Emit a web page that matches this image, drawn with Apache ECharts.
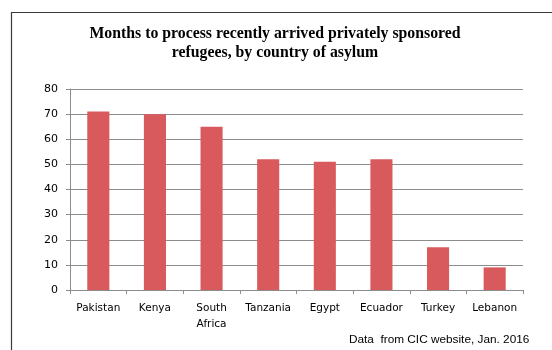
<!DOCTYPE html>
<html>
<head>
<meta charset="utf-8">
<script src="https://cdn.jsdelivr.net/npm/echarts@6/dist/echarts.min.js"></script>
<style>html,body{margin:0;padding:0;background:#fff}#c{width:552px;height:350px}</style>
</head>
<body>
<div id="c"></div>
<script>
const categories = ['Pakistan', 'Kenya', 'South\nAfrica', 'Tanzania', 'Egypt', 'Ecuador', 'Turkey', 'Lebanon'];
const months = [71, 70, 65, 52, 51, 52, 17, 9];
const titleText = 'Months to process recently arrived privately sponsored\nrefugees, by country of asylum';
const sourceText = 'Data  from CIC website, Jan. 2016';

const chart = echarts.init(document.getElementById('c'), null, {renderer: 'canvas'});
chart.setOption({
  animation: false,
  backgroundColor: '#fff',
  graphic: [
    {type: 'rect', shape: {x: 11.5, y: 12.5, width: 600, height: 400}, style: {fill: 'none', stroke: '#3a3a3a', lineWidth: 1.2}, z: -1},
    {type: 'text', left: 349, top: 334, style: {text: sourceText, font: '11.8px "Liberation Sans", sans-serif', fill: '#000'}}
  ],
  title: {
    text: titleText, left: 270, top: 19, textAlign: 'center',
    textStyle: {fontFamily: '"Liberation Serif", serif', fontWeight: 'bold', fontSize: 15.8, lineHeight: 19, color: '#000'}
  },
  grid: {left: 70, right: 29, top: 89, bottom: 60, containLabel: false},
  xAxis: {
    type: 'category', data: categories,
    axisLine: {lineStyle: {color: '#8c8c8c'}},
    axisTick: {show: true, length: 4, lineStyle: {color: '#8c8c8c'}},
    axisLabel: {color: '#000', fontFamily: '"DejaVu Sans", sans-serif', fontSize: 10.5, lineHeight: 16, margin: 10, interval: 0}
  },
  yAxis: {
    type: 'value', min: 0, max: 80, interval: 10,
    axisLine: {show: true, lineStyle: {color: '#8c8c8c'}},
    axisTick: {show: true, length: 4, lineStyle: {color: '#8c8c8c'}},
    splitLine: {lineStyle: {color: '#8c8c8c'}},
    axisLabel: {color: '#000', fontFamily: '"DejaVu Sans", sans-serif', fontSize: 11, margin: 12}
  },
  series: [{
    type: 'bar', data: months, barWidth: '39%',
    itemStyle: {color: '#d95a5c'}
  }]
});
</script>
</body>
</html>
